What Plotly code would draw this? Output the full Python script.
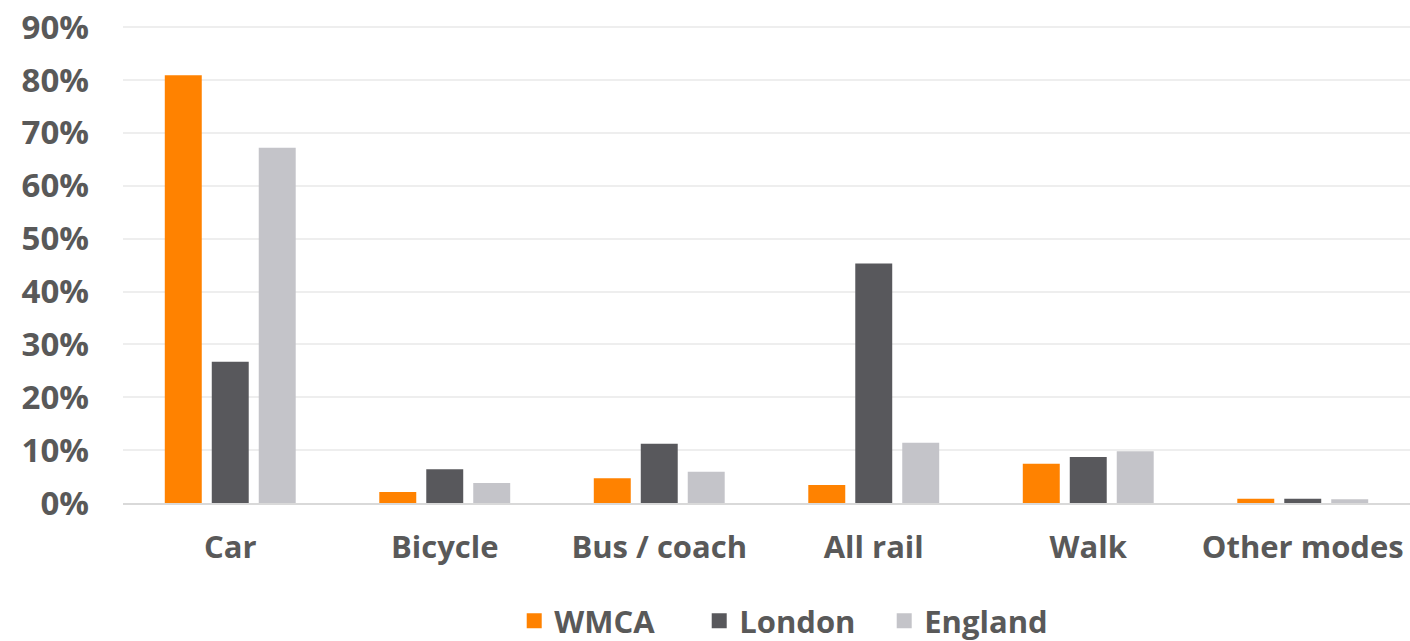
import plotly.graph_objects as go

categories = ["Car", "Bicycle", "Bus / coach", "All rail", "Walk", "Other modes"]
wmca = [80.9, 2.1, 4.7, 3.4, 7.4, 0.8]
london = [26.7, 6.4, 11.2, 45.3, 8.7, 0.8]
england = [67.2, 3.8, 5.9, 11.4, 9.8, 0.7]
series_names = ["WMCA", "London", "England"]
colors = ["#FF8200", "#58585C", "#C4C4C9"]
y_ticks = [0, 10, 20, 30, 40, 50, 60, 70, 80, 90]
y_tick_labels = [f"{v}%" for v in y_ticks]

FONT = "Open Sans"
TXT = "#595959"

fig = go.Figure()
for name, vals, col in zip(series_names, [wmca, london, england], colors):
    fig.add_trace(go.Bar(
        x=categories, y=vals, name=name, showlegend=False,
        marker=dict(color=col, line=dict(width=0)),
    ))
# legend entries with larger square swatches
for name, col in zip(series_names, colors):
    fig.add_trace(go.Scatter(
        x=[None], y=[None], mode="markers", name=name,
        marker=dict(symbol="square", size=15, color=col),
    ))

fig.update_layout(
    width=1410, height=641,
    margin=dict(l=123, r=0, t=25, b=138),
    paper_bgcolor="white", plot_bgcolor="white",
    barmode="group", bargap=0.343, bargroupgap=0.213,
    font=dict(family=FONT, color=TXT, size=30),
    showlegend=True,
    legend=dict(
        orientation="h", xref="container", yref="container",
        x=0.5615, xanchor="center", y=0.0312, yanchor="middle",
        font=dict(family=FONT, size=31, color=TXT, weight="bold"),
        itemwidth=30, tracegroupgap=0, itemsizing="trace",
        entrywidth=140, entrywidthmode="pixels",
    ),
    xaxis=dict(
        showgrid=False, showline=True, linecolor="#D9D9D9", linewidth=2,
        tickfont=dict(family=FONT, size=31, color=TXT, weight="bold"),
        ticks="", ticklabelstandoff=16, automargin=False,
        ticklabeloverflow="allow",
    ),
    yaxis=dict(
        range=[0, 90.4], tickvals=y_ticks, ticktext=y_tick_labels,
        showgrid=True, gridcolor="#EEEEEE", gridwidth=2,
        zeroline=False, showline=False,
        tickfont=dict(family=FONT, size=33, color=TXT, weight="bold"),
        ticks="", ticklabelstandoff=33, automargin=False,
        ticklabeloverflow="allow",
    ),
)

fig.write_html(
    "out.html",
    config={"displayModeBar": False},
    post_script="document.body.style.margin='0';document.body.style.overflow='hidden';",
)
